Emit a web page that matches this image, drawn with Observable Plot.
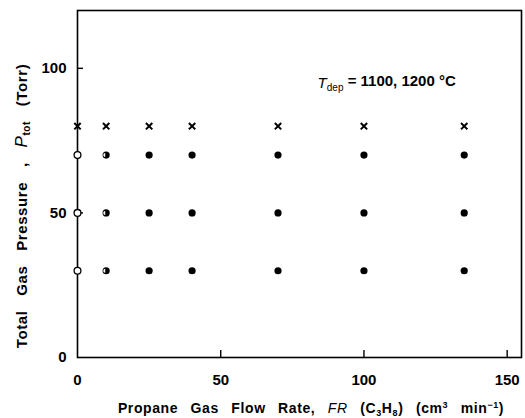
<!DOCTYPE html>
<html>
<head>
<meta charset="utf-8">
<script src="https://cdn.jsdelivr.net/npm/d3@7"></script>
<script src="https://cdn.jsdelivr.net/npm/@observablehq/plot@0.6"></script>
<style>
  body { margin: 0; background: #fff; }
  #chart svg { font-family: "Liberation Sans", Arial, sans-serif; }
</style>
</head>
<body>
<div id="chart"></div>
<script>
// Data
const flowRates = [0, 10, 25, 40, 70, 100, 135];           // FR (C3H8), cm3/min
const pressureLevels = [30, 50, 70];                        // Ptot (Torr) for circles
const markerKinds = ["open", "half", "filled", "filled", "filled", "filled", "filled"];
const crossPressure = 80;                                   // Ptot (Torr) for crosses
const xTicks = [0, 50, 100, 150];
const yTicks = [0, 50, 100];
const annotation = { x: 84, y: 95 };

const circles = [];
flowRates.forEach((fr, i) => pressureLevels.forEach(p => circles.push({ fr, p, kind: markerKinds[i] })));
const crosses = flowRates.map(fr => ({ fr, p: crossPressure }));

const halfSymbol = {
  draw(ctx, size) {
    const r = Math.sqrt(size / Math.PI);
    const cx = -0.25 * r, rr = 0.55 * r;
    ctx.moveTo(cx, -rr);
    ctx.arc(cx, 0, rr, -Math.PI / 2, Math.PI / 2, true);
    ctx.closePath();
  }
};

const plot = Plot.plot({
  width: 525,
  height: 418,
  marginLeft: 77,
  marginRight: 4,
  marginTop: 10,
  marginBottom: 61,
  x: { domain: [0, 155] },
  y: { domain: [0, 120] },
  style: { fontSize: "15px", fontWeight: "bold", color: "#000" },
  marks: [
    Plot.frame({ stroke: "#000", strokeWidth: 1.6 }),
    Plot.axisX(xTicks.filter(d => d > 0), { tickSize: -7, text: null, label: null, strokeWidth: 1.4 }),
    Plot.axisX(xTicks, { tickSize: 0, tickPadding: 17, label: null, fontSize: 15 }),
    Plot.axisY(yTicks.filter(d => d > 0), { tickSize: -6, text: null, label: null, strokeWidth: 1.4 }),
    Plot.axisY(yTicks, { tickSize: 0, tickPadding: 11, label: null, fontSize: 15 }),
    Plot.dot(circles.filter(d => d.kind !== "open"), { x: "fr", y: "p", r: 3.6, fill: "#000", stroke: "none" }),
    Plot.dot(circles.filter(d => d.kind === "half"), { x: "fr", y: "p", r: 3.6, symbol: halfSymbol, fill: "#fff", stroke: "none" }),
    Plot.dot(circles.filter(d => d.kind === "open"), { x: "fr", y: "p", r: 3.4, fill: "#fff", stroke: "#000", strokeWidth: 1.3 }),
    Plot.dot(crosses, { x: "fr", y: "p", r: 3, symbol: "times", stroke: "#000", strokeWidth: 2 })
  ]
});

document.getElementById("chart").appendChild(plot);
const svg = d3.select(plot);
const sx = plot.scale("x"), sy = plot.scale("y");

// Annotation
const ann = svg.append("text")
  .attr("x", sx.apply(annotation.x)).attr("y", sy.apply(annotation.y))
  .attr("dy", "0.35em").attr("text-anchor", "start")
  .attr("font-size", 15).attr("font-weight", "bold").attr("fill", "#000");
ann.append("tspan").attr("font-style", "italic").attr("font-weight", "normal").text("T");
ann.append("tspan").attr("font-size", 10).attr("font-weight", "normal").attr("dy", "0.35em").text("dep");
ann.append("tspan").attr("dy", "-0.35em").text(" = 1100, 1200 °C");

// X axis title
const xt = svg.append("text")
  .attr("x", 311).attr("y", 413)
  .attr("text-anchor", "middle")
  .attr("font-size", 14).attr("font-weight", "bold").attr("word-spacing", "8px")
  .attr("letter-spacing", "0.6px").attr("fill", "#000");
xt.append("tspan").text("Propane Gas Flow Rate, ");
xt.append("tspan").attr("font-style", "italic").attr("font-weight", "normal").text("FR");
xt.append("tspan").text(" (C");
xt.append("tspan").attr("font-size", 9).attr("dy", "3").text("3");
xt.append("tspan").attr("dy", "-3").text("H");
xt.append("tspan").attr("font-size", 9).attr("dy", "3").text("8");
xt.append("tspan").attr("dy", "-3").text(") (cm");
xt.append("tspan").attr("font-size", 9).attr("dy", "-5").text("3");
xt.append("tspan").attr("dy", "5").text(" min");
xt.append("tspan").attr("font-size", 9).attr("dy", "-5").text("−1");
xt.append("tspan").attr("dy", "5").text(")");

// Y axis title
const yt = svg.append("text")
  .attr("transform", "translate(27,206) rotate(-90)")
  .attr("text-anchor", "middle")
  .attr("font-size", 15).attr("font-weight", "bold").attr("word-spacing", "10px")
  .attr("letter-spacing", "0.6px").attr("fill", "#000");
yt.append("tspan").text("Total Gas Pressure , ");
yt.append("tspan").attr("font-style", "italic").attr("font-weight", "normal").attr("font-size", 17).text("P");
yt.append("tspan").attr("font-size", 10).attr("dy", "3").text("tot");
yt.append("tspan").attr("dy", "-3").text(" (Torr)");
</script>
</body>
</html>
